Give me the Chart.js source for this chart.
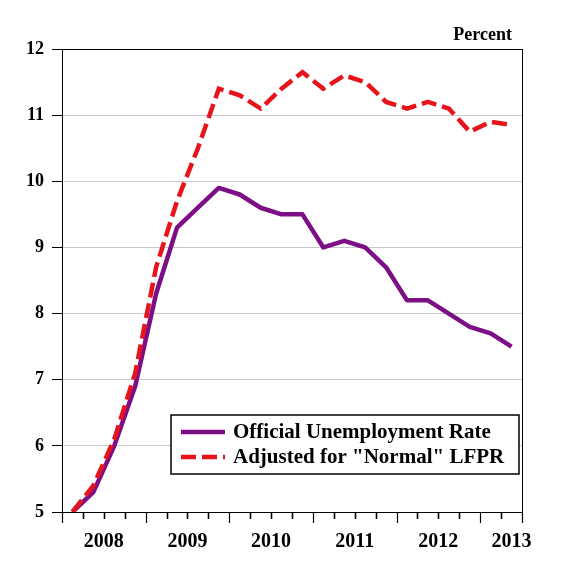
<!DOCTYPE html>
<html>
<head>
<meta charset="utf-8">
<script src="https://cdn.jsdelivr.net/npm/chart.js@4.4.1/dist/chart.umd.min.js"></script>
<style>
html,body{margin:0;padding:0;background:#fff}
#wrap{width:564px;height:564px}
</style>
</head>
<body>
<div id="wrap"><canvas id="c" width="564" height="564"></canvas></div>
<script>
// quarterly values, 2008 Q1 .. 2013 Q2
var quarters = ['2008 Q1','2008 Q2','2008 Q3','2008 Q4',
                '2009 Q1','2009 Q2','2009 Q3','2009 Q4',
                '2010 Q1','2010 Q2','2010 Q3','2010 Q4',
                '2011 Q1','2011 Q2','2011 Q3','2011 Q4',
                '2012 Q1','2012 Q2','2012 Q3','2012 Q4',
                '2013 Q1','2013 Q2'];
var years = ['2008','2009','2010','2011','2012','2013'];
var official = [5.0,5.3,6.0,6.9, 8.3,9.3,9.6,9.9, 9.8,9.6,9.5,9.5,
                9.0,9.1,9.0,8.7, 8.2,8.2,8.0,7.8, 7.7,7.5];
var adjusted = [5.0,5.4,6.1,7.1, 8.7,9.7,10.5,11.4, 11.3,11.1,11.4,11.65,
                11.4,11.6,11.5,11.2, 11.1,11.2,11.1,10.75, 10.9,10.85];
var yTicks = [5,6,7,8,9,10,11,12];
var unitLabel = 'Percent';

var serif = '"Liberation Serif", "Times New Roman", serif';
var purple = '#7c0f85';
var red = '#e8141c';

// where each year label sits (centre of its quarters, last partial year at its last quarter)
var yearLabelAt = {};
years.forEach(function(y){
    var idx = [];
    quarters.forEach(function(q, i){ if (q.indexOf(y) === 0) idx.push(i); });
    var pos = idx.length === 4 ? (idx[0] + idx[3]) / 2 : idx[idx.length - 1];
    yearLabelAt[pos] = y;
});

function pts(arr){ return arr.map(function(v, i){ return {x: i, y: v}; }); }

var extras = {
    id: 'extras',
    afterDraw: function(chart){
        var ctx = chart.ctx, a = chart.chartArea, xs = chart.scales.x;
        ctx.save();
        // frame
        ctx.strokeStyle = '#000';
        ctx.lineWidth = 1;
        ctx.strokeRect(a.left + 0.5, a.top + 0.5, a.right - a.left, a.bottom - a.top);
        // quarter ticks, longer at year boundaries
        for (var i = 0; i <= quarters.length; i++) {
            var isYear = (i === quarters.length) || (quarters[i].slice(-2) === 'Q1');
            var px = Math.round(xs.getPixelForValue(i - 0.5)) + 0.5;
            ctx.beginPath();
            ctx.lineWidth = isYear ? 1.2 : 1.6;
            ctx.moveTo(px, a.bottom);
            ctx.lineTo(px, a.bottom + (isYear ? 11 : 7));
            ctx.stroke();
        }
        // unit label
        ctx.fillStyle = '#000';
        ctx.font = 'bold 18px ' + serif;
        ctx.textAlign = 'right';
        ctx.textBaseline = 'alphabetic';
        ctx.fillText(unitLabel, a.right - 10, a.top - 9);
        // legend box
        var x0 = a.right - 351, y0 = a.bottom - 97, w = 348, h = 59;
        ctx.fillStyle = '#fff';
        ctx.fillRect(x0, y0, w, h);
        ctx.lineWidth = 1.5;
        ctx.strokeRect(x0, y0, w, h);
        chart.data.datasets.forEach(function(ds, i){
            var yy = y0 + 17 + i * 25;
            ctx.beginPath();
            ctx.strokeStyle = ds.borderColor;
            ctx.lineWidth = ds.borderWidth;
            ctx.setLineDash(ds.borderDash || []);
            ctx.moveTo(x0 + 10, yy);
            ctx.lineTo(x0 + 54, yy);
            ctx.stroke();
            ctx.setLineDash([]);
            ctx.fillStyle = '#000';
            ctx.font = 'bold 21px ' + serif;
            ctx.textAlign = 'left';
            ctx.textBaseline = 'middle';
            ctx.fillText(ds.label, x0 + 62, yy + 1);
        });
        ctx.restore();
    }
};

new Chart(document.getElementById('c'), {
    type: 'line',
    data: {
        datasets: [{
            label: 'Official Unemployment Rate',
            data: pts(official),
            borderColor: purple,
            borderWidth: 4.5,
            pointRadius: 0,
            borderJoinStyle: 'round',
            tension: 0,
            order: 2
        }, {
            label: 'Adjusted for "Normal" LFPR',
            data: pts(adjusted),
            borderColor: red,
            borderWidth: 4.5,
            borderDash: [15, 6],
            pointRadius: 0,
            tension: 0,
            order: 1
        }]
    },
    options: {
        responsive: false,
        devicePixelRatio: 1,
        animation: false,
        layout: { padding: { left: 0, right: 42, top: 49, bottom: 0 } },
        plugins: { legend: { display: false }, tooltip: { enabled: false } },
        scales: {
            x: {
                type: 'linear',
                min: -0.5,
                max: quarters.length - 0.5,
                afterBuildTicks: function(axis){
                    axis.ticks = Object.keys(yearLabelAt)
                        .map(function(k){ return { value: parseFloat(k) }; })
                        .sort(function(p, q){ return p.value - q.value; });
                },
                afterFit: function(axis){ axis.height = 52; },
                ticks: {
                    autoSkip: false,
                    maxRotation: 0,
                    padding: 12,
                    color: '#000',
                    font: { family: serif, size: 20, weight: 'bold' },
                    callback: function(v){ return yearLabelAt[v] || ''; }
                },
                grid: {
                    drawOnChartArea: false,
                    tickLength: 6,
                    tickColor: 'rgba(0,0,0,0)'
                },
                border: { color: '#000' }
            },
            y: {
                min: yTicks[0],
                max: yTicks[yTicks.length - 1],
                afterFit: function(axis){ axis.width = 62; },
                ticks: {
                    stepSize: 1,
                    padding: 8,
                    color: '#000',
                    font: { family: serif, size: 18, weight: 'bold' }
                },
                grid: {
                    tickLength: 10,
                    tickColor: '#000',
                    color: function(c){
                        var v = c.tick && c.tick.value;
                        return (v === yTicks[0] || v === yTicks[yTicks.length - 1]) ? 'rgba(0,0,0,0)' : '#c8c8c8';
                    }
                },
                border: { color: '#000' }
            }
        }
    },
    plugins: [extras]
});
</script>
</body>
</html>
